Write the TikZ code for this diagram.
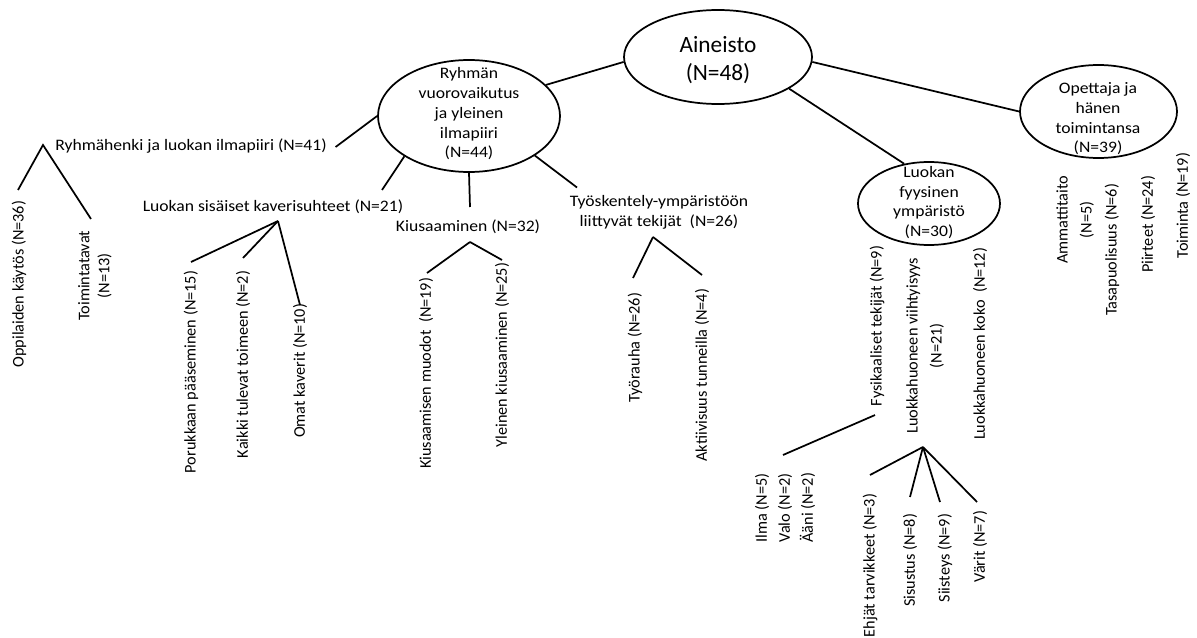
\documentclass[tikz,border=0pt]{standalone}
\usepackage{fontspec}
\setmainfont{Carlito}
\newfontfamily\hfont[FakeStretch=1.1]{Carlito}
\newfontfamily\vfont{Carlito}
\usetikzlibrary{shapes.geometric,calc}
\begin{document}
\begin{tikzpicture}[x=0.75pt,y=-0.75pt,
  line width=1.3pt,
  oval/.style={draw,ellipse,inner sep=0pt,line width=1.3pt},
  htext/.style={inner sep=0pt,align=center,font=\hfont\fontsize{12}{14.8}\selectfont},
  vtext/.style={inner sep=0pt,align=center,rotate=90,anchor=east,font=\vfont\fontsize{12.2}{17.5}\selectfont},
  conn/.style={draw,line width=1.3pt}]
\path[use as bounding box, fill=white] (0,0) rectangle (1197,638);

% ellipses
\node[oval, minimum width=141pt, minimum height=70.5pt] (main) at (718,57) {};
\node[inner sep=0pt, align=center, font=\vfont\fontsize{17.5}{21.5}\selectfont] (mainT) at (718,60) {Aineisto\\(N=48)};

\node[oval, minimum width=136.5pt, minimum height=84pt] (ryh) at (469,116) {};
\node[htext] (ryhT) at (469,114) {Ryhmän\\vuorovaikutus\\ja yleinen\\ilmapiiri\\(N=44)};

\node[oval, minimum width=106.5pt, minimum height=62.25pt] (fys) at (929,203.5) {};
\node[htext] (fysT) at (929,202.5) {Luokan\\fyysinen\\ympäristö\\(N=30)};

\node[oval, minimum width=117.75pt, minimum height=69.75pt] (ope) at (1098.5,111.5) {};
\node[htext] (opeT) at (1098,119) {Opettaja ja\\hänen\\toimintansa\\(N=39)};

% horizontal labels
\node[htext] (rh) at (191,146) {Ryhmähenki ja luokan ilmapiiri (N=41)};
\node[htext] (lsk) at (273,207) {Luokan sisäiset kaverisuhteet (N=21)};
\node[htext] (kiu) at (468,227) {Kiusaaminen (N=32)};
\node[htext] (tyo) at (659,212.5) {Työskentely-ympäristöön\\liittyvät tekijät\ \ (N=26)};

% rotated labels
\node[vtext] (opk) at (19,200) {Oppilaiden käytös (N=36)};
\node[vtext, font=\vfont\fontsize{12.2}{15}\selectfont] (toi) at (95,230) {Toimintatavat\\(N=13)};
\node[vtext] (por) at (191,270) {Porukkaan pääseminen (N=15)};
\node[vtext] (kai) at (243,270) {Kaikki tulevat toimeen (N=2)};
\node[vtext] (oma) at (300,303) {Omat kaverit (N=10)};
\node[vtext] (kmu) at (426,277) {Kiusaamisen muodot\ \ (N=19)};
\node[vtext] (yki) at (502,262) {Yleinen kiusaaminen (N=25)};
\node[vtext] (tyr) at (635,292) {Työrauha (N=26)};
\node[vtext] (akt) at (702,288) {Aktiivisuus tunneilla (N=4)};
\node[vtext] (fyt) at (877,245) {Fysikaaliset tekijät (N=9)};
\node[vtext, font=\vfont\fontsize{12.2}{18}\selectfont] (lvi) at (925,257) {Luokkahuoneen viihtyisyys\\(N=21)};
\node[vtext] (lko) at (980,247) {Luokkahuoneen koko\ \ (N=12)};
\node[vtext, font=\vfont\fontsize{12.2}{17.25}\selectfont] (ilm) at (785,472) {Ilma (N=5)\\Valo (N=2)\\Ääni (N=2)};
\node[vtext] (ehj) at (870,493) {Ehjät tarvikkeet (N=3)};
\node[vtext] (sis) at (910,513) {Sisustus (N=8)};
\node[vtext] (sii) at (945,513) {Siisteys (N=9)};
\node[vtext] (var) at (980,510) {Värit (N=7)};
\node[vtext, font=\vfont\fontsize{12.2}{18}\selectfont] (amm) at (1075,175) {Ammattitaito\\(N=5)};
\node[vtext] (tas) at (1112,183) {Tasapuolisuus (N=6)};
\node[vtext] (pii) at (1148,175) {Piirteet (N=24)};
\node[vtext] (tmt) at (1183,152) {Toiminta (N=19)};

% branch points
\coordinate (rhA) at (43,145);
\coordinate (lskA) at (278,221);
\coordinate (kiuA) at (470,242);
\coordinate (tyoA) at (653,237);
\coordinate (lviA) at (923,447);

% connectors
\draw[conn] (ryh.22) -- (main.183);
\draw[conn] (main.-24) -- (fys.122);
\draw[conn] (main.-3) -- (ope.west);
\draw[conn] (ryh.west) -- ($(rh.east)+(8,1)$);
\draw[conn] ($(opk.east)+(-1,-10)$) -- (rhA) -- ($(toi.east)+(-4,-11)$);
\draw[conn] (ryh.212) -- ($(lsk.center)+(109,-17)$);
\draw[conn] (lskA) -- ($(por.east)+(0,-8)$);
\draw[conn] (lskA) -- ($(kai.east)+(0,-12)$);
\draw[conn] (lskA) -- ($(oma.east)+(0,2)$);
\draw[conn] (ryh.south) -- ($(kiu.center)+(2,-20)$);
\draw[conn] (kiuA) -- ($(kmu.east)+(1,-4)$);
\draw[conn] (kiuA) -- ($(yki.east)+(0,-2)$);
\draw[conn] (ryh.-31) -- ($(tyo.center)+(-82,-25)$);
\draw[conn] (tyoA) -- ($(tyr.east)+(-2,-14)$);
\draw[conn] (tyoA) -- ($(akt.east)+(0,-13)$);
\draw[conn] ($(fyt.west)+(-2,8)$) -- ($(ilm.east)+(-2,-17)$);
\draw[conn] (lviA) -- ($(ehj.east)+(0,-18)$);
\draw[conn] (lviA) -- ($(sis.east)+(0,-16)$);
\draw[conn] (lviA) -- ($(sii.east)+(-5,-11)$);
\draw[conn] (lviA) -- ($(var.east)+(-3,-8)$);
\end{tikzpicture}
\end{document}
